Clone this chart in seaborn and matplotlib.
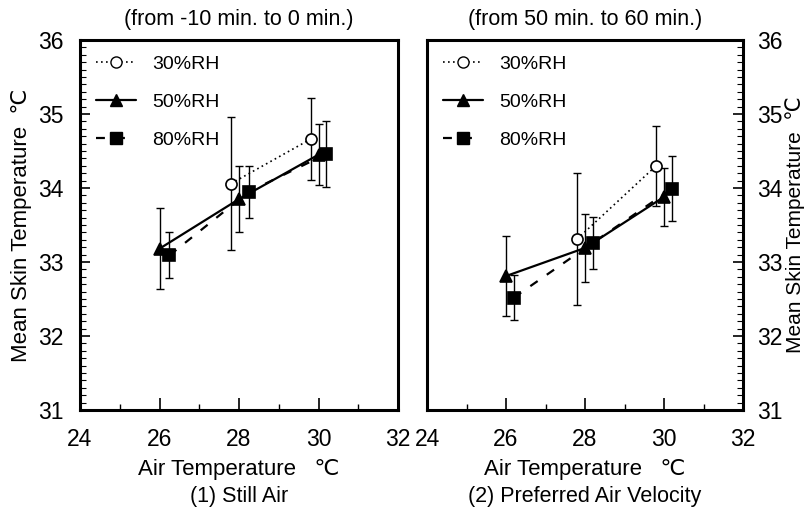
import matplotlib
matplotlib.use("Agg")
import matplotlib.pyplot as plt
import seaborn as sns
import pandas as pd
from matplotlib.ticker import MultipleLocator
from matplotlib.lines import Line2D

sns.set_theme(style="white")
plt.rcParams['font.family'] = ['Liberation Sans', 'DejaVu Sans']
plt.rcParams['text.color'] = 'black'
plt.rcParams['axes.labelcolor'] = 'black'
plt.rcParams['xtick.color'] = 'black'
plt.rcParams['ytick.color'] = 'black'

# ---- data ----
series = ["30%RH", "50%RH", "80%RH"]

# Panel 1: Still Air (from -10 min. to 0 min.)
p1_x30 = [27.8, 29.8]
p1_y30 = [34.06, 34.66]
p1_e30 = [0.90, 0.55]
p1_x50 = [26.0, 28.0, 30.0]
p1_y50 = [33.18, 33.85, 34.45]
p1_e50 = [0.55, 0.45, 0.41]
p1_x80 = [26.25, 28.25, 30.2]
p1_y80 = [33.09, 33.95, 34.46]
p1_e80 = [0.31, 0.35, 0.45]

# Panel 2: Preferred Air Velocity (from 50 min. to 60 min.)
p2_x30 = [27.8, 29.8]
p2_y30 = [33.31, 34.30]
p2_e30 = [0.89, 0.54]
p2_x50 = [26.0, 28.0, 30.0]
p2_y50 = [32.81, 33.19, 33.88]
p2_e50 = [0.54, 0.46, 0.39]
p2_x80 = [26.2, 28.2, 30.2]
p2_y80 = [32.52, 33.26, 33.99]
p2_e80 = [0.30, 0.35, 0.44]

titles = ["(from -10 min. to 0 min.)", "(from 50 min. to 60 min.)"]
captions = ["(1) Still Air", "(2) Preferred Air Velocity"]
xlabel = "Air Temperature   \u2103"
ylabel = "Mean Skin Temperature  \u2103"
xticks = [24, 26, 28, 30, 32]
yticks = [31, 32, 33, 34, 35, 36]

styles = {
    "30%RH": dict(ls=(0, (1, 2)), marker="o", mfc="white", lw=1.2, ms=8),
    "50%RH": dict(ls="-", marker="^", mfc="black", lw=1.6, ms=8),
    "80%RH": dict(ls=(0, (4, 5)), marker="s", mfc="black", lw=1.6, ms=8),
}

fig = plt.figure(figsize=(8.09, 5.08), dpi=100)
ax1 = fig.add_axes([80/809, 1-410/508, 318/809, 370/508])
ax2 = fig.add_axes([427/809, 1-410/508, 316/809, 370/508])

panels = [
    (ax1, [(p1_x30, p1_y30, p1_e30), (p1_x50, p1_y50, p1_e50), (p1_x80, p1_y80, p1_e80)]),
    (ax2, [(p2_x30, p2_y30, p2_e30), (p2_x50, p2_y50, p2_e50), (p2_x80, p2_y80, p2_e80)]),
]

for i, (ax, data) in enumerate(panels):
    for name, (xs, ys, es) in zip(series, data):
        st = styles[name]
        df = pd.DataFrame({"x": xs, "y": ys})
        ax.errorbar(xs, ys, yerr=es, fmt="none", ecolor="black", elinewidth=1.0,
                    capsize=3, capthick=1.0, zorder=2)
        sns.lineplot(data=df, x="x", y="y", ax=ax, color="black", linestyle=st["ls"],
                     linewidth=st["lw"], marker=st["marker"], markersize=st["ms"],
                     markerfacecolor=st["mfc"], markeredgecolor="black",
                     markeredgewidth=1.2, zorder=3, legend=False)
    ax.set_xlim(24, 32)
    ax.set_ylim(31, 36)
    ax.set_xticks(xticks)
    ax.set_yticks(yticks)
    ax.xaxis.set_minor_locator(MultipleLocator(1))
    ax.yaxis.set_minor_locator(MultipleLocator(0.1))
    for s in ax.spines.values():
        s.set_linewidth(2.2)
        s.set_color("black")
    ax.set_facecolor("white")
    ax.tick_params(axis="x", which="major", direction="in", length=9, width=1.2,
                   labelsize=16.5, pad=13, bottom=True, top=False, colors="black")
    ax.tick_params(axis="x", which="minor", direction="in", length=4, width=1.0,
                   bottom=True, top=False)
    if i == 0:
        ax.tick_params(axis="y", which="major", direction="in", length=7, width=1.2,
                       labelsize=16.5, left=True, right=False, labelleft=True,
                       labelright=False, pad=12, colors="black")
        ax.tick_params(axis="y", which="minor", direction="in", length=4, width=0.8,
                       left=True, right=False)
        ax.set_ylabel(ylabel, fontsize=16, labelpad=4)
    else:
        ax.tick_params(axis="y", which="major", direction="in", length=7, width=1.2,
                       labelsize=16.5, left=False, right=True, labelleft=False,
                       labelright=True, pad=10, colors="black")
        ax.tick_params(axis="y", which="minor", direction="in", length=4, width=0.8,
                       left=False, right=True)
        ax.yaxis.set_label_position("right")
        ax.set_ylabel(ylabel, fontsize=15, labelpad=2, rotation=90)
    ax.set_xlabel(xlabel, fontsize=16, labelpad=6)
    ax.set_title(titles[i], fontsize=15.5, pad=11)
    ax.text(0.5, -0.234, captions[i], transform=ax.transAxes, ha="center", va="center",
            fontsize=15.5)

    handles = [Line2D([], [], color="black", linestyle=styles[n]["ls"],
                      linewidth=styles[n]["lw"], marker=styles[n]["marker"],
                      markersize=styles[n]["ms"], markerfacecolor=styles[n]["mfc"],
                      markeredgecolor="black") for n in series]
    ax.legend(handles, series, loc="upper left", frameon=False, fontsize=14,
              handlelength=2.1, handletextpad=0.8, labelspacing=1.05,
              borderaxespad=0.4)

fig.savefig("out.png", dpi=100, facecolor="white")
